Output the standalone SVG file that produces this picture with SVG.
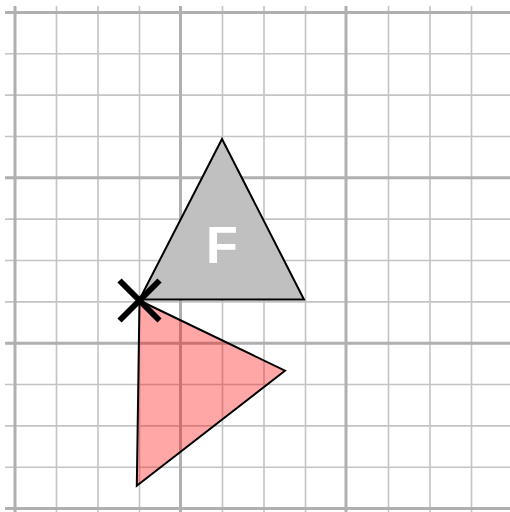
<svg xmlns="http://www.w3.org/2000/svg" width="510" height="512" viewBox="0 0 510 512">
<style>
.thin{stroke:#c4c4c4;stroke-width:1.6;fill:none}
.thick{stroke:#b0b0b0;stroke-width:3;fill:none}
.tri{stroke:#000;stroke-width:2;stroke-linejoin:miter}
</style>
<rect width="510" height="512" fill="#fff"/>
<g id="grid">
<path class="thin" d="M56.5 6V512M98 6V512M139.5 6V512M222.5 6V512M264 6V512M305.5 6V512M388.5 6V512M430 6V512M471.5 6V512"/>
<path class="thin" d="M5 53.75H510M5 95.1H510M5 136.45H510M5 219.15H510M5 260.5H510M5 301.85H510M5 384.55H510M5 425.9H510M5 467.25H510"/>
<path class="thick" d="M15 6V512M180.5 6V512M346 6V512"/>
<path class="thick" d="M5 12.4H510M5 177.8H510M5 343.2H510M5 508.6H510"/>
</g>
<g id="gray-triangle">
<polygon class="tri" points="222,139 304,299.5 139.5,299.5" fill="#c0c0c0"/>
<text x="222" y="263.3" text-anchor="middle" font-family="Liberation Sans, Arial, sans-serif" font-weight="bold" font-size="52" fill="#fff">F</text>
</g>
<g id="red-triangle">
<polygon class="tri" points="139.5,300.5 285,370.7 136.8,485.7" fill="#ff0000" fill-opacity="0.35"/>
</g>
<g id="pivot">
<path d="M119.5 280.5L159.5 320.5M159.5 280.5L119.5 320.5" stroke="#000" stroke-width="6" fill="none"/>
</g>
</svg>
